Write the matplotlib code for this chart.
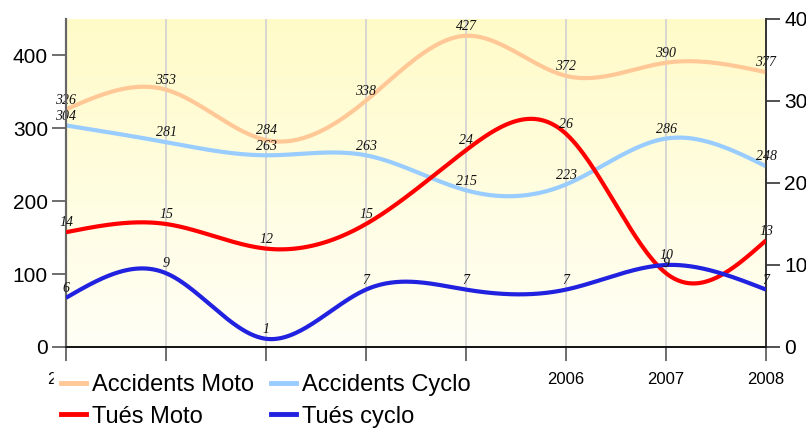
import numpy as np
import matplotlib.pyplot as plt
from matplotlib.lines import Line2D

years = [2001, 2002, 2003, 2004, 2005, 2006, 2007, 2008]
accidents_moto = [326, 353, 284, 338, 427, 372, 390, 377]
accidents_cyclo = [304, 281, 263, 263, 215, 223, 286, 248]
tues_moto = [14, 15, 12, 15, 24, 26, 9, 13]
tues_cyclo = [6, 9, 1, 7, 7, 7, 10, 7]
# labels of 2002-2005 sit under the legend in the original, only 2001's first digit shows
year_labels = ["2001", "", "", "", "", "2006", "2007", "2008"]


def natural_spline(x, y, n=400):
    # natural cubic spline through the points, only used for drawing the curve
    x = np.asarray(x, float)
    y = np.asarray(y, float)
    k = len(x)
    h = np.diff(x)
    A = np.zeros((k, k))
    b = np.zeros(k)
    A[0, 0] = A[-1, -1] = 1
    for i in range(1, k - 1):
        A[i, i - 1] = h[i - 1]
        A[i, i] = 2 * (h[i - 1] + h[i])
        A[i, i + 1] = h[i]
        b[i] = 6 * ((y[i + 1] - y[i]) / h[i] - (y[i] - y[i - 1]) / h[i - 1])
    m = np.linalg.solve(A, b)
    xs = np.linspace(x[0], x[-1], n)
    idx = np.clip(np.searchsorted(x, xs) - 1, 0, k - 2)
    x0, x1 = x[idx], x[idx + 1]
    hh = x1 - x0
    t0, t1 = x1 - xs, xs - x0
    ys = (m[idx] * t0 ** 3 / (6 * hh) + m[idx + 1] * t1 ** 3 / (6 * hh)
          + (y[idx] / hh - m[idx] * hh / 6) * t0
          + (y[idx + 1] / hh - m[idx + 1] * hh / 6) * t1)
    return xs, ys


fig = plt.figure(figsize=(8.06, 4.30), dpi=100)
ax = fig.add_axes([66 / 806, 83 / 430, 700 / 806, 328 / 430])
ax2 = ax.twinx()

# yellow gradient background
grad = np.linspace(0, 1, 256).reshape(-1, 1)
cmap = plt.matplotlib.colors.LinearSegmentedColormap.from_list(
    "bg", ["#fffff6", "#fffbc8"])
ax.imshow(grad, extent=[years[0], years[-1], 0, 450], origin="lower",
          aspect="auto", cmap=cmap, zorder=0)

for yr in years[1:-1]:
    ax.axvline(yr, color="#d4d4d4", lw=1.3, zorder=1)

series = [
    (ax, accidents_moto, "#ffc896", "Accidents Moto"),
    (ax, accidents_cyclo, "#99ccff", "Accidents Cyclo"),
    (ax2, tues_moto, "#ff0000", "Tués Moto"),
    (ax2, tues_cyclo, "#2121e0", "Tués cyclo"),
]
for a, vals, col, name in series:
    xs, ys = natural_spline(years, vals)
    a.plot(xs, ys, color=col, lw=3, solid_capstyle="butt", zorder=3)
    for xv, yv in zip(years, vals):
        a.annotate(str(yv), (xv, yv), xytext=(0, 2), textcoords="offset points",
                   ha="center", va="bottom", fontsize=10, style="italic",
                   family="Liberation Serif", color="#111111", zorder=5)

ax.set_xlim(years[0], years[-1])
ax.set_ylim(0, 450)
ax2.set_ylim(0, 40)
ax.set_yticks([0, 100, 200, 300, 400])
ax2.set_yticks([0, 10, 20, 30, 40])
ax.set_xticks(years)
ax.set_xticklabels(year_labels, family="Liberation Sans", fontsize=12)
ax.tick_params(axis="x", length=10, width=1.2, color="#555555", pad=8)
ax.tick_params(axis="y", length=10, width=1.2, color="#555555", pad=3,
               labelsize=15)
ax2.tick_params(axis="y", length=10, width=1.2, color="#333333", pad=3,
                labelsize=15)
for lab in ax.get_yticklabels() + ax2.get_yticklabels():
    lab.set_family("Liberation Sans")

for a in (ax, ax2):
    a.spines["top"].set_visible(False)
    a.spines["left"].set_color("#666666")
    a.spines["left"].set_linewidth(1.5)
    a.spines["right"].set_color("#333333")
    a.spines["right"].set_linewidth(1.2)
    a.spines["bottom"].set_color("#111111")
    a.spines["bottom"].set_linewidth(1.2)
ax2.set_zorder(ax.get_zorder() + 1)
ax2.patch.set_visible(False)

handles = [Line2D([], [], color=s[2], lw=3.5) for s in series]
labels = [s[3] for s in series]
order = [0, 2, 1, 3]
leg = fig.legend([handles[i] for i in order], [labels[i] for i in order],
                 ncol=2, loc="upper left", bbox_to_anchor=(54 / 806, 1 - 367 / 430),
                 frameon=True, fancybox=False, edgecolor="white", facecolor="white",
                 framealpha=1, prop={"family": "Liberation Sans", "size": 17},
                 handlelength=1.06, handletextpad=0.25, columnspacing=0.72,
                 labelspacing=0.4, borderpad=0.3, borderaxespad=0)
leg.set_zorder(10)

fig.savefig("out.png", dpi=100)
